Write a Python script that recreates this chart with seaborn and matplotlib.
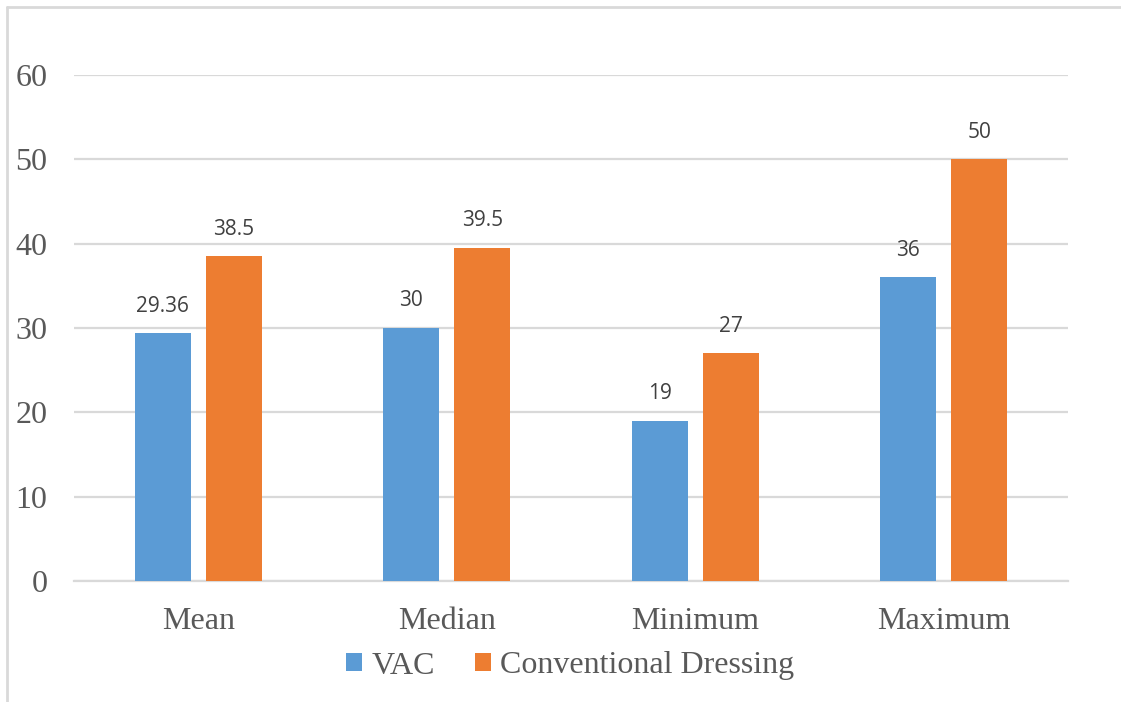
import matplotlib
matplotlib.use("Agg")
import matplotlib.pyplot as plt
from matplotlib.lines import Line2D
from matplotlib.patches import Patch
import seaborn as sns
import pandas as pd

categories = ["Mean", "Median", "Minimum", "Maximum"]
series = ["VAC", "Conventional Dressing"]
vac_values = [29.36, 30, 19, 36]
conventional_values = [38.5, 39.5, 27, 50]
colors = ["#5B9BD5", "#ED7D31"]
y_ticks = [0, 10, 20, 30, 40, 50, 60]

df = pd.DataFrame({
    "Statistic": categories * 2,
    "Value": vac_values + conventional_values,
    "Group": [series[0]] * len(categories) + [series[1]] * len(categories),
})

sns.set_theme(style="white")
plt.rcParams["font.family"] = ["Liberation Serif", "DejaVu Serif"]

fig = plt.figure(figsize=(11.21, 7.02), dpi=100)
ax = fig.add_axes([74 / 1121, 1 - 581 / 702, (1068 - 74) / 1121, (581 - 75) / 702])

sns.barplot(data=df, x="Statistic", y="Value", hue="Group", order=categories,
            hue_order=series, palette=colors, width=0.572, gap=0.213,
            saturation=1, linewidth=0, ax=ax, legend=False, zorder=3)

ax.set_ylim(0, 60)
ax.set_xlim(-0.5, len(categories) - 0.5)
ax.set_yticks(y_ticks)
ax.set_xlabel("")
ax.set_ylabel("")
ax.yaxis.grid(True, color="#D9D9D9", linewidth=1.6, zorder=0)
ax.set_axisbelow(True)
for side in ["top", "right", "left"]:
    ax.spines[side].set_visible(False)
ax.spines["bottom"].set_color("#D9D9D9")
ax.spines["bottom"].set_linewidth(1.6)
ax.tick_params(axis="both", length=0, labelsize=23, labelcolor="#595959")
ax.tick_params(axis="y", pad=19)
ax.tick_params(axis="x", pad=19)

for container in ax.containers:
    ax.bar_label(container, fmt="%g", padding=12, fontsize=15,
                 color="#404040", family="Open Sans")

handles = [Patch(facecolor=c, edgecolor="none") for c in colors]
fig.legend(handles, series, loc="center", bbox_to_anchor=(570 / 1121, 1 - 666 / 702),
           ncol=2, frameon=False, fontsize=23, labelcolor="#595959",
           handlelength=0.5, handleheight=0.5, handletextpad=0.3, columnspacing=1.25)

# outer frame of the chart area
frame_kw = dict(color="#D9D9D9", linewidth=2, transform=fig.transFigure)
fig.add_artist(Line2D([6.5 / 1121, 1.01], [1 - 6.5 / 702, 1 - 6.5 / 702], **frame_kw))
fig.add_artist(Line2D([6.5 / 1121, 6.5 / 1121], [-0.01, 1 - 6.5 / 702], **frame_kw))

fig.savefig("out.png", dpi=100)
